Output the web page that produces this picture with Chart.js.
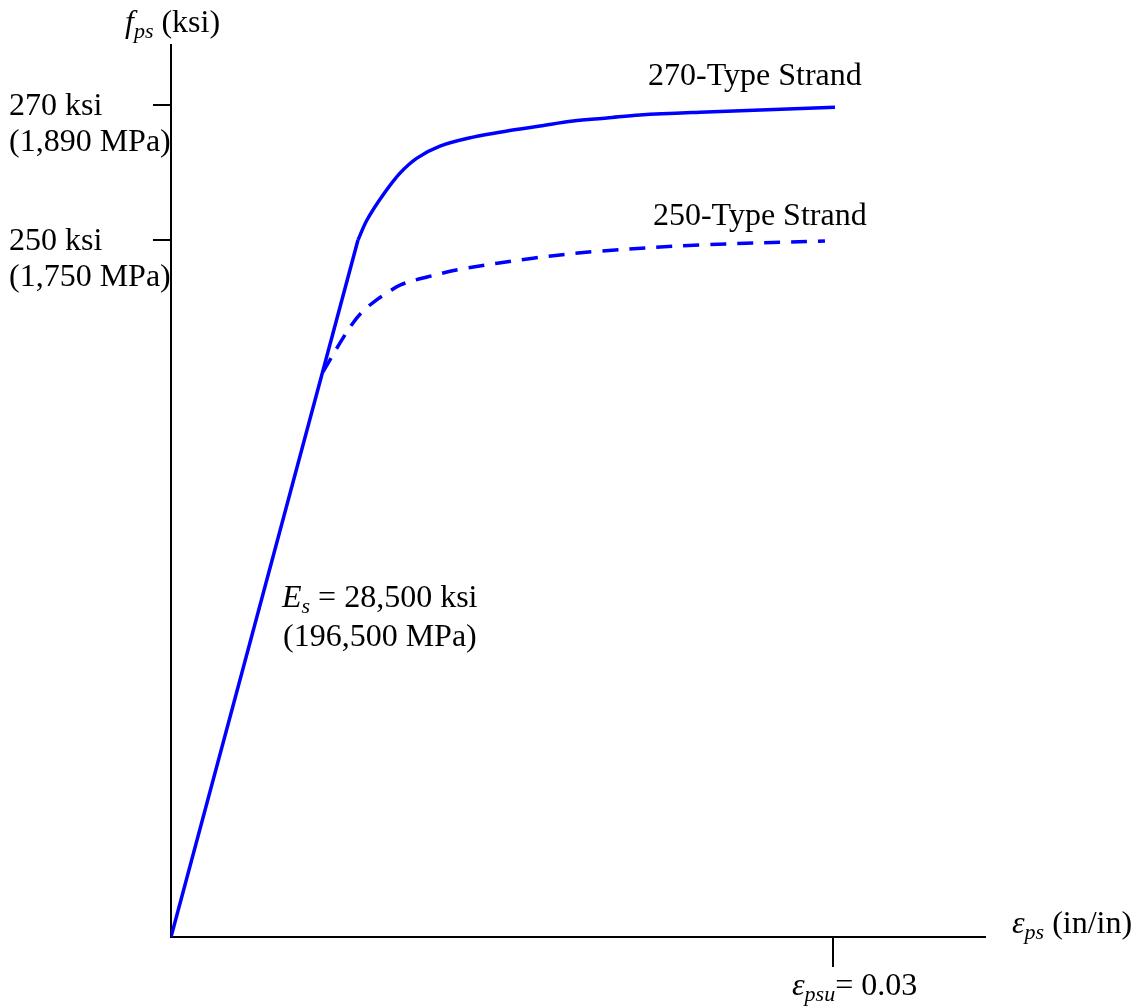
<!DOCTYPE html>
<html>
<head>
<meta charset="utf-8">
<script src="https://cdn.jsdelivr.net/npm/chart.js@4.4.1/dist/chart.umd.min.js"></script>
<style>
  html, body { margin: 0; padding: 0; background: #ffffff; }
  #wrap { width: 1138px; height: 1008px; }
</style>
</head>
<body>
<div id="wrap"><canvas id="c" width="1138" height="1008"></canvas></div>
<script>
// ---- Data (strain in in/in, stress in schematic ksi units as drawn) ----
const elasticStrain = [0, 0.008474];
const elasticStress = [0, 226.2];

const strain270 = [0.008474, 0.008882, 0.009607, 0.010378, 0.011148, 0.01219, 0.013686, 0.015226, 0.016722, 0.018217, 0.019758, 0.021253, 0.023972, 0.03009];
const stress270 = [226.2, 232.7, 240.8, 247.9, 252.8, 256.7, 259.6, 261.6, 263.2, 264.8, 265.8, 266.8, 267.7, 269.3];

const strain250 = [0.006888, 0.007659, 0.008248, 0.008701, 0.009245, 0.009788, 0.010378, 0.011601, 0.013187, 0.016405, 0.019441, 0.023972, 0.029637];
const stress250 = [183.4, 192.8, 199.3, 203.1, 206.4, 209.0, 211.6, 214.2, 216.8, 220.3, 222.6, 224.6, 225.9];

const yTickValues = [270, 226.2];
const yTickLabels = [["270 ksi", "(1,890 MPa)"], ["250 ksi", "(1,750 MPa)"]];
const xTickValues = [0.03];

const toPts = (xs, ys) => xs.map((x, i) => ({ x: x, y: ys[i] }));

const FONT = "'Liberation Serif', 'Times New Roman', serif";
const FS = 32;
const BLUE = '#0000ff';
const LW = 3.5;

function drawRich(ctx, x, y, parts) {
  let cx = x;
  parts.forEach(p => {
    const size = p.sub ? Math.round(FS * 0.68) : FS;
    ctx.font = (p.italic ? 'italic ' : '') + size + 'px ' + FONT;
    const dy = p.sub ? 6 : 0;
    ctx.fillText(p.t, cx, y + dy);
    cx += ctx.measureText(p.t).width + (p.gap || 0);
  });
}

const labelsPlugin = {
  id: 'labels',
  afterDraw(chart) {
    const ctx = chart.ctx;
    const xs = chart.scales.x, ys = chart.scales.y;
    const area = chart.chartArea;
    ctx.save();
    ctx.fillStyle = '#000';
    ctx.textBaseline = 'alphabetic';
    ctx.textAlign = 'left';
    // y tick labels
    yTickValues.forEach((v, i) => {
      const py = ys.getPixelForValue(v);
      ctx.font = FS + 'px ' + FONT;
      ctx.fillText(yTickLabels[i][0], 9, py + 10);
      ctx.fillText(yTickLabels[i][1], 9, py + 46);
    });
    // x tick label
    xTickValues.forEach(v => {
      const px = xs.getPixelForValue(v);
      drawRich(ctx, px - 41, area.bottom + 58, [
        { t: 'ε', italic: true },
        { t: 'psu', italic: true, sub: true },
        { t: '= 0.03' }
      ]);
    });
    // y-axis title
    drawRich(ctx, area.left - 46, area.top - 13, [
      { t: 'f', italic: true },
      { t: 'ps', italic: true, sub: true },
      { t: ' (ksi)' }
    ]);
    // x-axis title
    drawRich(ctx, area.right + 27, area.bottom - 4, [
      { t: 'ε', italic: true },
      { t: 'ps', italic: true, sub: true },
      { t: ' (in/in)' }
    ]);
    // curve labels
    ctx.font = FS + 'px ' + FONT;
    ctx.fillText('270-Type Strand', xs.getPixelForValue(0.02162), 85);
    ctx.fillText('250-Type Strand', xs.getPixelForValue(0.02184), 225);
    // modulus label
    drawRich(ctx, 282, 607, [
      { t: 'E', italic: true },
      { t: 's', italic: true, sub: true },
      { t: ' = 28,500 ksi' }
    ]);
    ctx.font = FS + 'px ' + FONT;
    ctx.fillText('(196,500 MPa)', 283, 646);
    ctx.restore();
  }
};

new Chart(document.getElementById('c'), {
  type: 'line',
  data: {
    datasets: [
      { label: 'Elastic', data: toPts(elasticStrain, elasticStress), borderColor: BLUE, borderWidth: LW, pointRadius: 0, tension: 0, fill: false },
      { label: '270-Type Strand', data: toPts(strain270, stress270), borderColor: BLUE, borderWidth: LW, pointRadius: 0, tension: 0.35, fill: false },
      { label: '250-Type Strand', data: toPts(strain250, stress250), borderColor: BLUE, borderWidth: LW, borderDash: [16, 11], pointRadius: 0, tension: 0.35, fill: false }
    ]
  },
  options: {
    responsive: false,
    animation: false,
    layout: { padding: { left: 153, top: 45, right: 153, bottom: 41 } },
    plugins: { legend: { display: false }, tooltip: { enabled: false } },
    scales: {
      x: {
        type: 'linear', min: 0, max: 0.03689,
        afterBuildTicks: s => { s.ticks = xTickValues.map(v => ({ value: v })); },
        ticks: { display: false },
        grid: { display: true, drawOnChartArea: false, drawTicks: true, tickLength: 30, color: '#000', lineWidth: 2 },
        border: { display: true, color: '#000', width: 2 }
      },
      y: {
        type: 'linear', min: 0, max: 289.5,
        afterBuildTicks: s => { s.ticks = yTickValues.map(v => ({ value: v })); },
        ticks: { display: false },
        grid: { display: true, drawOnChartArea: false, drawTicks: true, tickLength: 18, color: '#000', lineWidth: 2 },
        border: { display: true, color: '#000', width: 2 }
      }
    }
  },
  plugins: [labelsPlugin]
});
</script>
</body>
</html>
